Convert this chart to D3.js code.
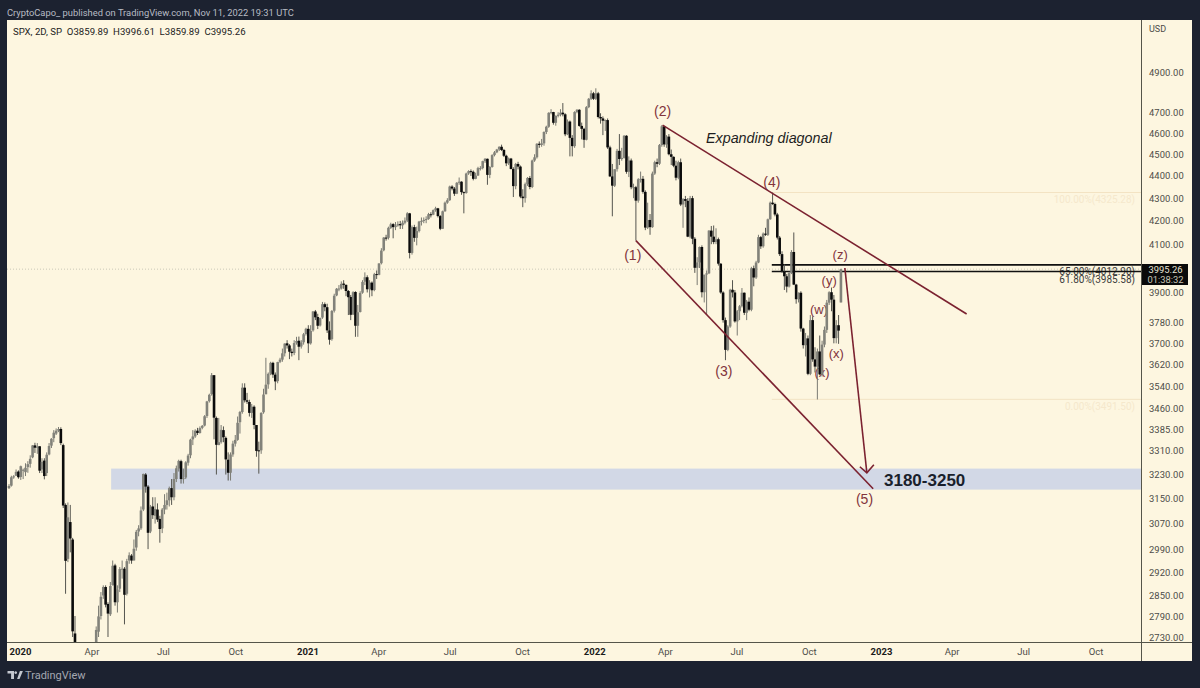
<!DOCTYPE html>
<html><head><meta charset="utf-8">
<script src="https://cdn.jsdelivr.net/npm/d3@7/dist/d3.min.js"></script>
<style>html,body{margin:0;padding:0;background:#1c2230;overflow:hidden}svg{display:block;font-family:Roboto,"Liberation Sans",sans-serif}</style>
</head><body><svg id="c" width="1200" height="688"></svg>
<script>
const opens=[
3185,3193,3222,3226,3240,3222,3246,3238,3255,3266,3288,3329,3321,3326,3247,3277,3235,3298,3328,3354,
3370,3380,3386,3330,3130,2960,3075,3020,2740,2470,2390,2395,2310,2450,2545,2625,2530,2670,2745,2790,
2850,2875,2825,2795,2880,2940,2830,2870,2930,2930,2855,2955,2970,2955,2995,3045,3055,3115,3230,3190,
3045,3125,3095,3115,3085,3055,3115,3130,3145,3185,3155,3215,3250,3275,3215,3220,3270,3295,3350,3360,
3380,3372,3390,3398,3432,3485,3510,3580,3425,3330,3340,3382,3355,3280,3236,3298,3335,3348,3410,3446,
3534,3488,3482,3443,3465,3400,3312,3312,3445,3510,3546,3585,3626,3582,3558,3630,3638,3662,3700,3692,
3668,3663,3702,3710,3688,3704,3736,3756,3700,3750,3824,3802,3769,3800,3853,3841,3750,3716,3827,3888,
3915,3916,3936,3931,3906,3882,3812,3902,3768,3822,3899,3944,3962,3914,3940,3910,3975,3972,4020,4074,
4128,4127,4170,4186,4173,4180,4186,4181,4192,4201,4233,4063,4173,4127,4156,4197,4200,4204,4208,4229,
4227,4247,4255,4221,4166,4242,4280,4291,4352,4343,4320,4369,4374,4327,4323,4411,4422,4419,4387,4402,
4436,4436,4468,4479,4405,4441,4496,4509,4522,4535,4520,4493,4458,4480,4432,4354,4455,4443,4307,4300,
4363,4391,4350,4471,4486,4549,4544,4551,4605,4630,4697,4701,4649,4682,4688,4698,4690,4594,4655,4577,
4538,4701,4712,4634,4620,4568,4725,4766,4793,4766,4793,4677,4670,4659,4662,4532,4398,4356,4431,4516,
4478,4483,4587,4419,4471,4349,4349,4289,4385,4387,4328,4171,4204,4173,4411,4463,4456,4543,4632,4546,
4583,4500,4488,4447,4392,4463,4272,4296,4288,4132,4300,4123,4001,4023,4088,3901,3973,3978,4158,4132,
4109,4121,4018,3900,3790,3675,3765,3911,3900,3785,3825,3845,3899,3819,3863,3831,3999,3961,4023,4130,
4091,4145,4140,4207,4280,4274,4228,4128,4058,3986,3966,3924,3979,4067,3932,3873,3899,3757,3693,3719,
3585,3790,3639,3612,3669,3583,3695,3752,3859,3901,3871,3720,3770,3860];
const highs=[
3198,3226,3228,3247,3244,3260,3250,3268,3275,3295,3330,3338,3337,3326,3285,3285,3305,3337,3354,3382,
3388,3393,3392,3335,3135,3138,3130,3025,2790,2560,2480,2450,2480,2640,2640,2630,2680,2760,2820,2860,
2880,2880,2830,2890,2955,2945,2880,2935,2955,2935,2960,2980,2975,3020,3050,3065,3125,3233,3235,3195,
3130,3155,3155,3135,3095,3120,3165,3170,3190,3215,3235,3260,3280,3280,3250,3275,3300,3352,3382,3385,
3390,3395,3400,3435,3486,3512,3588,3580,3430,3425,3400,3395,3360,3305,3305,3345,3365,3430,3450,3550,
3550,3515,3490,3475,3470,3400,3342,3445,3530,3645,3590,3630,3630,3590,3630,3645,3680,3700,3712,3697,
3680,3712,3725,3726,3712,3740,3760,3770,3770,3826,3830,3815,3800,3862,3860,3855,3785,3830,3895,3918,
3930,3945,3950,3932,3910,3890,3905,3905,3850,3905,3950,3982,3970,3950,3945,3980,3990,4020,4083,4130,
4140,4175,4192,4190,4195,4198,4200,4202,4215,4238,4235,4180,4183,4175,4200,4215,4215,4220,4235,4238,
4250,4262,4257,4225,4245,4285,4300,4356,4358,4350,4372,4393,4376,4330,4415,4426,4430,4425,4415,4442,
4445,4470,4482,4480,4445,4500,4515,4525,4537,4545,4525,4498,4485,4483,4440,4460,4465,4448,4340,4370,
4395,4400,4475,4500,4552,4560,4572,4608,4635,4700,4715,4702,4685,4700,4715,4745,4695,4665,4660,4590,
4705,4715,4715,4650,4625,4730,4770,4808,4800,4818,4800,4695,4680,4665,4670,4540,4455,4430,4525,4595,
4530,4590,4590,4490,4480,4365,4355,4390,4420,4400,4335,4280,4230,4420,4470,4480,4548,4638,4635,4590,
4595,4522,4490,4470,4470,4480,4300,4310,4300,4310,4310,4130,4045,4090,4095,3950,3990,4160,4178,4180,
4168,4128,4020,3905,3800,3770,3915,3950,3910,3830,3850,3918,3900,3870,3880,4005,4010,4030,4140,4135,
4150,4170,4210,4285,4325,4280,4235,4135,4070,4015,3975,3985,4075,4150,3935,3900,3905,3760,3740,3730,
3810,3805,3685,3680,3730,3710,3765,3870,3905,3920,3890,3790,3810,3997];
const lows=[
3182,3190,3216,3225,3216,3212,3215,3225,3236,3253,3285,3303,3300,3235,3235,3214,3225,3295,3320,3340,
3365,3375,3330,3120,2855,2950,2980,2730,2460,2290,2360,2280,2290,2420,2520,2500,2520,2650,2730,2780,
2840,2815,2730,2790,2880,2820,2800,2860,2900,2766,2850,2945,2945,2955,2985,3030,3050,3110,3170,2990,
3040,3085,3070,3075,3010,3040,3100,3115,3125,3130,3145,3205,3240,3200,3200,3215,3260,3285,3330,3355,
3365,3370,3385,3395,3425,3480,3505,3350,3230,3330,3335,3340,3230,3210,3210,3290,3325,3345,3370,3440,
3480,3475,3430,3425,3385,3290,3233,3300,3440,3510,3530,3580,3570,3525,3550,3625,3630,3650,3680,3640,
3650,3655,3695,3636,3680,3695,3730,3663,3695,3745,3790,3755,3765,3795,3825,3740,3695,3710,3820,3885,
3905,3912,3915,3885,3810,3790,3810,3725,3725,3820,3895,3930,3900,3880,3885,3905,3955,3970,4015,4070,
4115,4120,4165,4125,4160,4175,4165,4165,4185,4195,4040,4056,4110,4095,4150,4180,4190,4190,4205,4215,
4225,4240,4215,4160,4165,4240,4275,4288,4335,4310,4318,4360,4315,4233,4320,4405,4400,4380,4385,4400,
4425,4430,4460,4360,4390,4438,4490,4505,4515,4515,4487,4445,4450,4430,4305,4340,4430,4300,4260,4280,
4355,4340,4345,4465,4480,4530,4535,4540,4595,4625,4690,4640,4635,4675,4680,4680,4585,4590,4490,4490,
4530,4695,4630,4570,4530,4565,4720,4760,4760,4760,4670,4645,4590,4610,4525,4395,4220,4350,4420,4450,
4470,4480,4410,4395,4340,4300,4115,4280,4370,4320,4160,4165,4140,4170,4405,4440,4450,4535,4535,4530,
4495,4450,4440,4380,4385,4265,4170,4260,4130,4125,4100,3980,3930,4000,3880,3860,3810,3975,4100,4100,
4100,4010,3895,3780,3636,3670,3760,3880,3780,3730,3790,3840,3810,3790,3825,3825,3925,3955,4020,4080,
4085,4135,4135,4205,4270,4220,4120,4050,3980,3910,3900,3920,3975,3930,3855,3860,3745,3680,3650,3580,
3580,3630,3590,3491,3580,3575,3685,3740,3850,3825,3700,3700,3698,3860];
const closes=[
3192,3221,3224,3239,3221,3258,3246,3253,3265,3283,3329,3321,3325,3243,3273,3225,3297,3327,3352,3373,
3380,3386,3337,3128,2954,3090,3023,2746,2480,2386,2398,2304,2447,2541,2626,2526,2664,2750,2789,2846,
2875,2823,2797,2878,2939,2830,2868,2929,2930,2852,2953,2971,2955,2991,3044,3055,3112,3232,3190,3041,
3124,3097,3117,3083,3053,3115,3130,3145,3185,3155,3215,3251,3276,3215,3218,3271,3294,3349,3360,3380,
3372,3389,3397,3431,3484,3508,3580,3426,3331,3340,3383,3357,3281,3236,3298,3335,3348,3408,3446,3534,
3488,3483,3443,3465,3400,3310,3310,3443,3509,3545,3585,3626,3582,3557,3629,3638,3662,3699,3692,3668,
3663,3701,3709,3687,3703,3735,3756,3700,3748,3824,3801,3768,3798,3853,3841,3750,3714,3826,3887,3915,
3916,3935,3931,3906,3881,3811,3901,3768,3821,3898,3943,3962,3913,3940,3909,3974,3972,4019,4073,4128,
4127,4170,4185,4173,4180,4186,4181,4192,4201,4233,4063,4173,4127,4156,4197,4200,4204,4208,4229,4227,
4247,4255,4221,4166,4242,4280,4291,4352,4343,4320,4369,4374,4327,4323,4411,4422,4419,4387,4402,4436,
4436,4468,4479,4405,4441,4496,4509,4522,4535,4520,4493,4458,4480,4432,4354,4455,4443,4307,4300,4363,
4391,4350,4471,4486,4549,4544,4551,4605,4630,4697,4701,4649,4682,4688,4698,4690,4594,4655,4577,4538,
4701,4712,4634,4620,4568,4725,4766,4793,4766,4793,4677,4670,4659,4662,4532,4398,4356,4431,4516,4478,
4483,4587,4419,4471,4349,4349,4289,4385,4387,4328,4171,4204,4173,4411,4463,4456,4543,4632,4546,4583,
4500,4488,4447,4392,4463,4272,4296,4288,4132,4300,4123,4001,4023,4088,3901,3973,3978,4158,4132,4109,
4121,4018,3900,3790,3675,3765,3911,3900,3785,3825,3845,3899,3819,3863,3831,3999,3961,4023,4130,4091,
4145,4140,4207,4280,4274,4228,4128,4058,3986,3966,3924,3979,4067,3932,3873,3899,3757,3693,3719,3585,
3790,3639,3612,3669,3583,3695,3752,3859,3901,3871,3720,3770,3749,3995];

const priceTicks=[4900,4700,4600,4500,4400,4300,4200,4100,3900,3780,3700,3620,3540,3460,3385,3310,3230,3150,3070,2990,2920,2850,2790,2730];
const timeTickDates=["2020-01-01","2020-04-01","2020-07-01","2020-10-01","2021-01-01","2021-04-01","2021-07-01","2021-10-01","2022-01-01","2022-04-01","2022-07-01","2022-10-01","2023-01-01","2023-04-01","2023-07-01","2023-10-01"];
const timeTickLabels=["2020","Apr","Jul","Oct","2021","Apr","Jul","Oct","2022","Apr","Jul","Oct","2023","Apr","Jul","Oct"];
const fibLevels=[4325.28,4012.90,3985.58,3491.50];
const fibLabels=["100.00%(4325.28)","65.00%(4012.90)","61.80%(3985.58)","0.00%(3491.50)"];
const fibStart="2022-08-15";
const zoneLow=3180, zoneHigh=3250, zoneStart="2020-04-26";
const lastPrice=3995.26;
const trendDates=[["2022-03-29","2023-04-20"],["2022-02-23","2022-12-22"],["2022-11-16","2022-12-14"]];
const trendPrices=[[4638,3814],[4115,3183],[4000,3236]];
const waveNames=["(1)","(2)","(3)","(4)","(5)","(w)","(x)","(y)","(x)","(z)"];
const waveDates=["2022-02-19","2022-03-29","2022-06-15","2022-08-15","2022-12-11","2022-10-14","2022-10-18","2022-10-27","2022-11-05","2022-11-10"];
const wavePrices=[4033,4682,3576,4350,3134,3816,3574,3930,3644,4036];

const parse=d3.utcParse("%Y-%m-%d");
const toLocal=s=>{const d=parse(s);return new Date(d.getUTCFullYear(),d.getUTCMonth(),d.getUTCDate());};
const barDates=d3.timeDay.range(new Date(2019,11,18),new Date(2022,10,14),3);
const x=d3.scaleTime().domain([new Date(2020,0,1),new Date(2023,0,1)]).range([20,881]);
const y=d3.scaleLog().domain([2730,4900]).range([637,72]);
const L=7,R=1141,T=20,B=642,RE=1192,BE=661;
const svg=d3.select("#c");
const maroon="#7b2230", labelC="#82343c";
const helv="'Liberation Sans',Arial,sans-serif";

svg.append("rect").attr("width",1200).attr("height",688).attr("fill","#1c2230");
svg.append("rect").attr("x",L).attr("y",T).attr("width",RE-L).attr("height",BE-T).attr("fill","#fdf6e0");
svg.append("clipPath").attr("id","p").append("rect").attr("x",L).attr("y",T).attr("width",R-L).attr("height",B-T);
const plot=svg.append("g").attr("clip-path","url(#p)");

plot.append("rect").attr("x",x(toLocal(zoneStart))).attr("y",y(zoneHigh)).attr("width",R-x(toLocal(zoneStart))).attr("height",y(zoneLow)-y(zoneHigh)).attr("fill","#d2d8e6");

plot.append("line").attr("x1",L).attr("x2",R).attr("y1",y(lastPrice)).attr("y2",y(lastPrice)).attr("stroke","#b5b5a8").attr("stroke-width",.7).attr("stroke-dasharray","1 2");

// fib levels
const fibX=x(toLocal(fibStart));
const fibOffsets=[10,10.5,11,11];
fibLevels.forEach((v,i)=>{
  const strong=i==1||i==2;
  plot.append("text").attr("x",1135).attr("y",y(v)+fibOffsets[i]).attr("text-anchor","end").attr("font-size",10)
    .attr("fill",strong?"#3a3a3a":"#f5e8cc").text(fibLabels[i]);
  plot.append("line").attr("x1",fibX).attr("x2",R).attr("y1",y(v)).attr("y2",y(v))
    .attr("stroke",strong?"#111":"#f3e3c3").attr("stroke-width",strong?1.6:1);
});

// wave labels beneath candles
waveNames.forEach((n,i)=>{
  plot.append("text").attr("x",x(toLocal(waveDates[i]))).attr("y",y(wavePrices[i])).attr("text-anchor","middle")
   .attr("font-family",helv).attr("font-size",i<5?14:13).attr("fill",labelC).text(n);
});

// candles
const bars=barDates.map((d,i)=>({d,o:opens[i],h:highs[i],l:lows[i],c:closes[i]})).filter(b=>b.c!==undefined);
plot.selectAll("line.w").data(bars).join("line").attr("class","w")
  .attr("x1",b=>x(b.d)).attr("x2",b=>x(b.d)).attr("y1",b=>y(b.h)).attr("y2",b=>y(b.l))
  .attr("stroke",b=>b.c>=b.o?"#7a7a72":"#55554f").attr("stroke-width",1);
plot.selectAll("rect.b").data(bars).join("rect").attr("class","b")
  .attr("x",b=>x(b.d)-1.3).attr("width",2.6)
  .attr("y",b=>y(Math.max(b.o,b.c))).attr("height",b=>Math.max(1,Math.abs(y(b.o)-y(b.c))))
  .attr("fill",b=>b.c>=b.o?"#82827a":"#0b0b0b");

// trend lines
trendDates.forEach((ds,i)=>{
  plot.append("line").attr("x1",x(toLocal(ds[0]))).attr("y1",y(trendPrices[i][0])).attr("x2",x(toLocal(ds[1]))).attr("y2",y(trendPrices[i][1]))
   .attr("stroke",maroon).attr("stroke-width",1.6);
});
// arrow head
{
 const tx=x(toLocal(trendDates[2][1])),ty=y(trendPrices[2][1]);
 plot.append("path").attr("d",d3.line()([[tx-7,ty-6],[tx,ty],[tx+7,ty-8]])).attr("fill","none").attr("stroke",maroon).attr("stroke-width",1.6);
}

plot.append("text").attr("x",706).attr("y",143).attr("font-family",helv).attr("font-size",14.3).attr("font-style","italic").attr("fill","#1e1e1e").text("Expanding diagonal");
plot.append("text").attr("x",884).attr("y",486).attr("font-family",helv).attr("font-size",17).attr("font-weight",700).attr("fill","#1a1f2c").text("3180-3250");

// axes frame
svg.append("line").attr("x1",R+.5).attr("x2",R+.5).attr("y1",T).attr("y2",BE).attr("stroke","#55554a").attr("stroke-width",1);
svg.append("line").attr("x1",L).attr("x2",RE).attr("y1",B+.5).attr("y2",B+.5).attr("stroke","#55554a").attr("stroke-width",1);

const ya=svg.append("g").attr("transform",`translate(${R+1},0)`)
  .call(d3.axisRight(y).tickValues(priceTicks).tickFormat(d3.format(".2f")).tickSize(0).tickPadding(7));
ya.select(".domain").remove();
ya.selectAll("text").attr("font-size",9.4).attr("fill","#4c4c48").attr("font-family","Roboto,sans-serif").attr("letter-spacing",.1);

const xa=svg.append("g").attr("transform",`translate(0,${B})`)
  .call(d3.axisBottom(x).tickValues(timeTickDates.map(toLocal)).tickFormat((d,i)=>timeTickLabels[i]).tickSize(0).tickPadding(6));
xa.select(".domain").remove();
xa.selectAll("text").attr("font-size",9.5).attr("font-family","Roboto,sans-serif")
  .attr("font-weight",(d,i)=>/^20/.test(timeTickLabels[i])?700:400).attr("fill",(d,i)=>/^20/.test(timeTickLabels[i])?"#1a1a1a":"#4c4c48");

svg.append("text").attr("x",1149).attr("y",32).attr("font-size",9).attr("fill","#4c4c48").text("USD");

// last price box
svg.append("rect").attr("x",R+1).attr("y",264).attr("width",46).attr("height",21).attr("fill","#0a0a0a");
svg.append("text").attr("x",1165.5).attr("y",273).attr("text-anchor","middle").attr("font-size",9.4).attr("fill","#e8e4d4").text(lastPrice.toFixed(2));
svg.append("text").attr("x",1165.5).attr("y",282.5).attr("text-anchor","middle").attr("font-size",9.4).attr("fill","#c8c4b4").text("01:38:32");

// header & footer
svg.append("text").attr("x",7).attr("y",15.5).attr("font-size",9.35).attr("fill","#b8bcc4").text("CryptoCapo_ published on TradingView.com, Nov 11, 2022 19:31 UTC");
svg.append("text").attr("x",13).attr("y",35).attr("font-size",9.6).attr("fill","#222").style("white-space","pre").text("SPX, 2D, SP  O3859.89  H3996.61  L3859.89  C3995.26");
const lg=svg.append("g").attr("transform","translate(7.5,671)").attr("fill","#c4c8cf");
lg.append("path").attr("d","M0 0H6.5V8H3.6V2.6H0ZM8.2 0.2a1.4 1.4 0 1 0 .01 0ZM9.6 8L12.4 0H15.4L12 8Z");
svg.append("text").attr("x",25).attr("y",679).attr("font-size",11).attr("fill","#a4a8b0").text("TradingView");
</script></body></html>
